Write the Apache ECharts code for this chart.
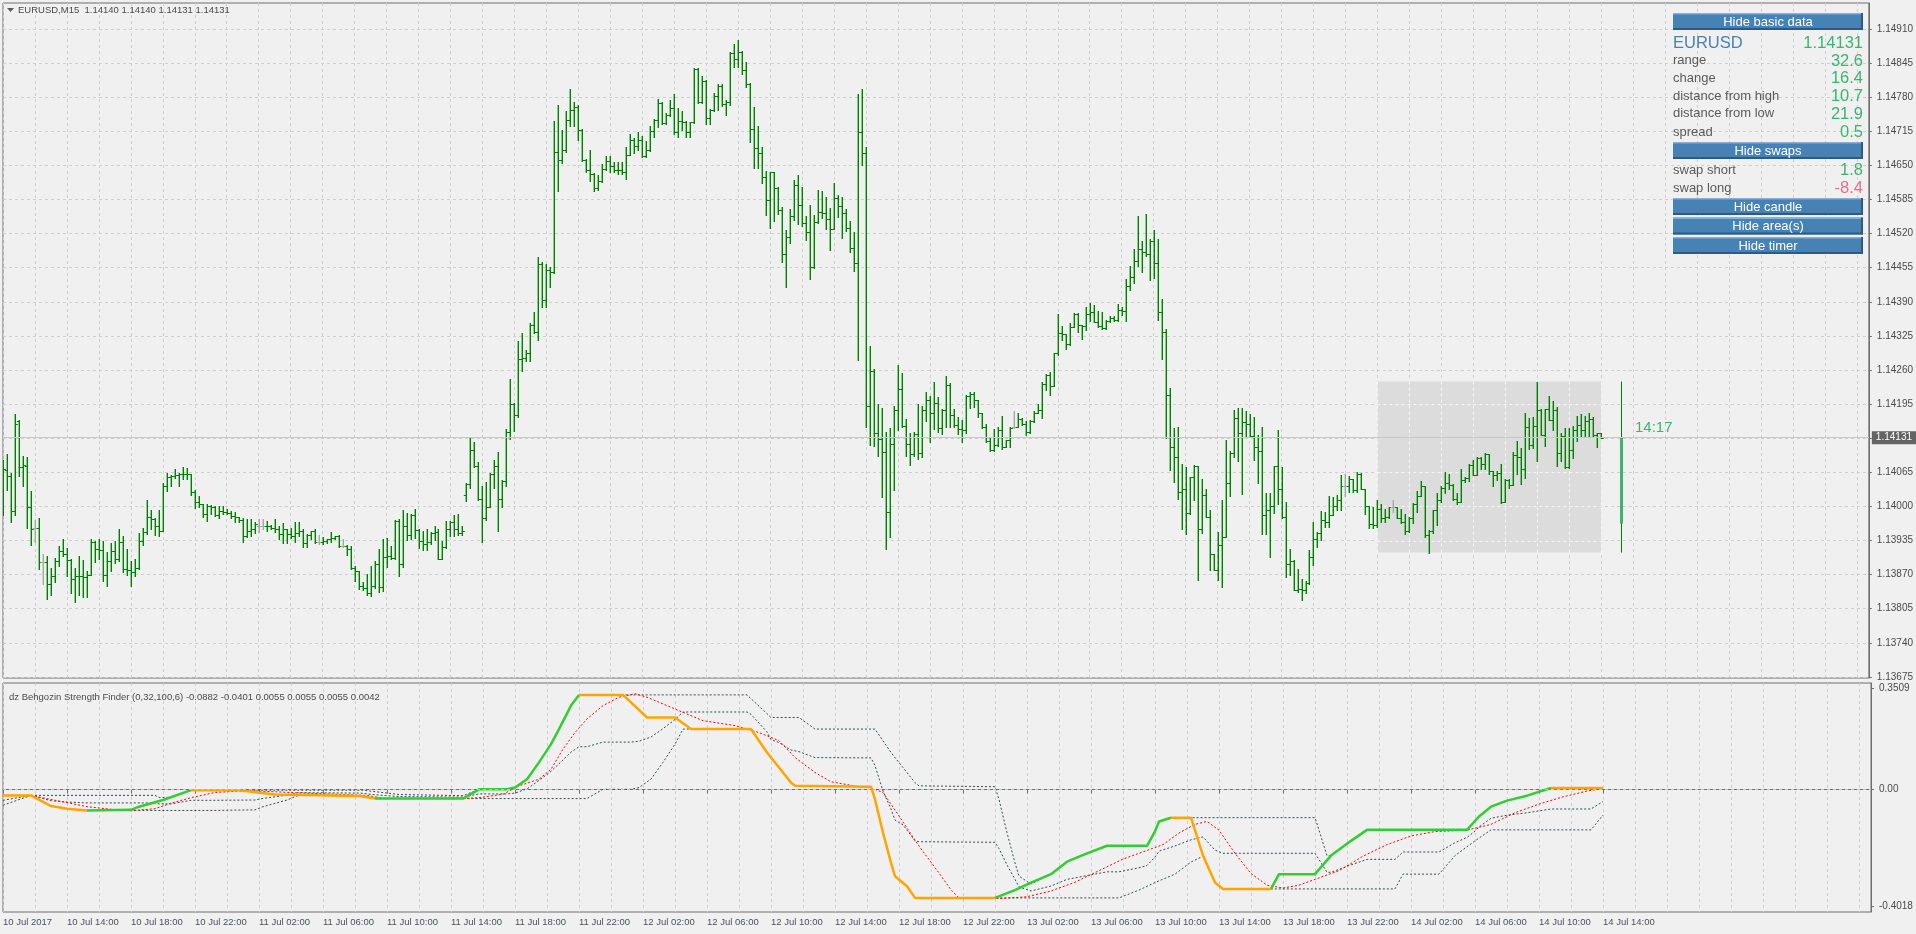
<!DOCTYPE html>
<html><head><meta charset="utf-8">
<script src="https://cdn.jsdelivr.net/npm/echarts@6/dist/echarts.min.js"></script>
<style>html,body{margin:0;padding:0;background:#F0F0F0}#c{width:1916px;height:934px}</style>
</head><body><div id="c"></div>
<script>
// ---------------- DATA ----------------
const chartTitle = 'EURUSD,M15  1.14140 1.14140 1.14131 1.14131';
const indicatorTitle = 'dz Behgozin Strength Finder (0,32,100,6) -0.0882 -0.0401 0.0055 0.0055 0.0055 0.0042';
const timeLabels = ['10 Jul 2017','10 Jul 14:00','10 Jul 18:00','10 Jul 22:00','11 Jul 02:00','11 Jul 06:00','11 Jul 10:00','11 Jul 14:00','11 Jul 18:00','11 Jul 22:00','12 Jul 02:00','12 Jul 06:00','12 Jul 10:00','12 Jul 14:00','12 Jul 18:00','12 Jul 22:00','13 Jul 02:00','13 Jul 06:00','13 Jul 10:00','13 Jul 14:00','13 Jul 18:00','13 Jul 22:00','14 Jul 02:00','14 Jul 06:00','14 Jul 10:00','14 Jul 14:00'];
const priceTicks = [1.13675,1.13740,1.13805,1.13870,1.13935,1.14000,1.14065,1.14130,1.14195,1.14260,1.14325,1.14390,1.14455,1.14520,1.14585,1.14650,1.14715,1.14780,1.14845,1.14910];
const indicatorTicks = [-0.4018, 0, 0.3509];
const lastPrice = 1.14131;
const dayOHLC = [1.13967, 1.14238, 1.13912, 1.14131];
const dayStartBar = 344;
const timerText = '14:17';
const symbolName = 'EURUSD';
const infoLabels = ['range','change','distance from high','distance from low','spread'];
const infoValues = ['32.6','16.4','10.7','21.9','0.5'];
const swapLabels = ['swap short','swap long'];
const swapValues = ['1.8','-8.4'];
const buttonLabels = ['Hide basic data','Hide swaps','Hide candle','Hide area(s)','Hide timer'];

const opens = [
1.14070,1.14070,1.14058,1.13991,1.14162,1.14076,1.14077,1.13999,1.13958,1.13958,
1.13894,1.13894,1.13852,1.13867,1.13895,1.13915,1.13909,1.13897,1.13862,1.13867,
1.13868,1.13866,1.13869,1.13933,1.13918,1.13916,1.13869,1.13896,1.13915,1.13900,
1.13932,1.13881,1.13878,1.13875,1.13882,1.13935,1.13951,1.13980,1.13976,1.13963,
1.13954,1.14039,1.14056,1.14058,1.14060,1.14061,1.14062,1.14061,1.14027,1.14008,
1.14005,1.13986,1.14000,1.13999,1.13984,1.13992,1.13990,1.13987,1.13981,1.13980,
1.13975,1.13944,1.13954,1.13956,1.13963,1.13963,1.13963,1.13962,1.13959,1.13956,
1.13948,1.13956,1.13948,1.13943,1.13949,1.13954,1.13930,1.13946,1.13953,1.13932,
1.13932,1.13934,1.13937,1.13940,1.13943,1.13924,1.13924,1.13918,1.13882,1.13876,
1.13849,1.13844,1.13834,1.13848,1.13891,1.13847,1.13904,1.13905,1.13902,1.13973,
1.13890,1.13962,1.13946,1.13984,1.13955,1.13935,1.13929,1.13932,1.13950,1.13952,
1.13900,1.13923,1.13956,1.13970,1.13956,1.13949,1.14021,1.14042,1.14107,1.14077,
1.14015,1.13978,1.13999,1.14061,1.14077,1.14014,1.14048,1.14141,1.14195,1.14175,
1.14281,1.14282,1.14292,1.14345,1.14333,1.14463,1.14393,1.14450,1.14447,1.14676,
1.14660,1.14679,1.14737,1.14756,1.14762,1.14717,1.14660,1.14641,1.14633,1.14606,
1.14620,1.14644,1.14658,1.14648,1.14642,1.14641,1.14638,1.14670,1.14699,1.14687,
1.14698,1.14667,1.14680,1.14716,1.14737,1.14769,1.14730,1.14746,1.14760,1.14714,
1.14735,1.14732,1.14713,1.14732,1.14834,1.14771,1.14811,1.14740,1.14755,1.14782,
1.14802,1.14768,1.14771,1.14865,1.14852,1.14867,1.14831,1.14806,1.14719,1.14684,
1.14673,1.14628,1.14584,1.14637,1.14606,1.14565,1.14482,1.14513,1.14554,1.14613,
1.14574,1.14541,1.14523,1.14457,1.14542,1.14561,1.14560,1.14547,1.14529,1.14587,
1.14573,1.14559,1.14531,1.14493,1.14464,1.14713,1.14673,1.14192,1.14259,1.14140,
1.14128,1.14103,1.13990,1.14119,1.14184,1.14224,1.14154,1.14119,1.14100,1.14138,
1.14101,1.14184,1.14203,1.14179,1.14198,1.14149,1.14183,1.14232,1.14175,1.14155,
1.14147,1.14145,1.14210,1.14215,1.14202,1.14178,1.14151,1.14124,1.14108,1.14117,
1.14146,1.14114,1.14126,1.14151,1.14151,1.14166,1.14157,1.14141,1.14162,1.14179,
1.14184,1.14234,1.14251,1.14230,1.14292,1.14331,1.14329,1.14310,1.14342,1.14366,
1.14345,1.14343,1.14366,1.14370,1.14351,1.14343,1.14340,1.14353,1.14359,1.14356,
1.14374,1.14372,1.14421,1.14438,1.14468,1.14491,1.14485,1.14482,1.14506,1.14464,
1.14370,1.14332,1.14213,1.14114,1.14095,1.14028,1.14033,1.13987,1.14057,1.14077,
1.13956,1.14022,1.13979,1.13909,1.13878,1.13926,1.13942,1.14045,1.14101,1.14168,
1.14140,1.14160,1.14158,1.14134,1.14113,1.14106,1.13983,1.13993,1.14001,1.14077,
1.14034,1.13979,1.13890,1.13896,1.13840,1.13843,1.13841,1.13854,1.13903,1.13937,
1.13950,1.13975,1.13971,1.13983,1.14001,1.14013,1.14038,1.14038,1.14052,1.14031,
1.14062,1.14033,1.14001,1.13966,1.13964,1.13996,1.13977,1.13979,1.13998,1.13998,
1.13977,1.13971,1.13954,1.13977,1.14005,1.14019,1.14039,1.13945,1.13954,1.13993,
1.14013,1.14036,1.14045,1.14040,1.14015,1.14009,1.14050,1.14055,1.14079,1.14060,
1.14092,1.14081,1.14100,1.14068,1.14060,1.14063,1.14009,1.14050,1.14041,1.14098,
1.14094,1.14071,1.14152,1.14117,1.14154,1.14183,1.14136,1.14185,1.14164,1.14183,
1.14101,1.14134,1.14076,1.14108,1.14146,1.14155,1.14146,1.14162,1.14166,1.14136,
1.14140];
const highs = [
1.14089,1.14100,1.14063,1.14176,1.14165,1.14096,1.14094,1.14030,1.13975,1.13977,
1.13910,1.13905,1.13882,1.13902,1.13924,1.13937,1.13921,1.13899,1.13883,1.13906,
1.13897,1.13877,1.13937,1.13934,1.13937,1.13934,1.13914,1.13930,1.13934,1.13956,
1.13943,1.13918,1.13896,1.13899,1.13949,1.13958,1.14013,1.13994,1.13978,1.13994,
1.14044,1.14063,1.14060,1.14071,1.14063,1.14075,1.14073,1.14062,1.14032,1.14019,
1.14005,1.14005,1.14003,1.14000,1.14000,1.14000,1.13995,1.13991,1.13989,1.13980,
1.13978,1.13976,1.13976,1.13970,1.13976,1.13976,1.13973,1.13965,1.13976,1.13962,
1.13968,1.13957,1.13959,1.13971,1.13971,1.13957,1.13948,1.13954,1.13957,1.13946,
1.13942,1.13938,1.13951,1.13944,1.13946,1.13937,1.13927,1.13924,1.13886,1.13876,
1.13855,1.13871,1.13887,1.13895,1.13918,1.13937,1.13939,1.13924,1.13975,1.13976,
1.13994,1.13988,1.13986,1.13996,1.13956,1.13953,1.13956,1.13952,1.13962,1.13956,
1.13935,1.13972,1.13972,1.13984,1.13985,1.13962,1.14045,1.14132,1.14123,1.14084,
1.14039,1.14046,1.14064,1.14089,1.14103,1.14051,1.14147,1.14243,1.14198,1.14315,
1.14330,1.14299,1.14350,1.14371,1.14476,1.14465,1.14462,1.14456,1.14735,1.14766,
1.14717,1.14753,1.14795,1.14771,1.14765,1.14720,1.14662,1.14680,1.14635,1.14631,
1.14653,1.14668,1.14667,1.14656,1.14656,1.14657,1.14686,1.14710,1.14702,1.14714,
1.14707,1.14696,1.14726,1.14739,1.14776,1.14771,1.14750,1.14775,1.14786,1.14760,
1.14753,1.14734,1.14733,1.14836,1.14836,1.14821,1.14813,1.14757,1.14788,1.14805,
1.14805,1.14775,1.14867,1.14881,1.14889,1.14868,1.14848,1.14807,1.14762,1.14726,
1.14685,1.14640,1.14638,1.14638,1.14608,1.14570,1.14527,1.14567,1.14623,1.14631,
1.14608,1.14554,1.14574,1.14555,1.14603,1.14601,1.14589,1.14568,1.14617,1.14593,
1.14590,1.14566,1.14544,1.14523,1.14786,1.14796,1.14686,1.14305,1.14261,1.14196,
1.14187,1.14141,1.14149,1.14192,1.14270,1.14255,1.14166,1.14140,1.14141,1.14196,
1.14192,1.14219,1.14211,1.14238,1.14208,1.14185,1.14249,1.14235,1.14185,1.14170,
1.14164,1.14213,1.14219,1.14219,1.14202,1.14179,1.14157,1.14133,1.14147,1.14151,
1.14173,1.14127,1.14152,1.14181,1.14179,1.14168,1.14162,1.14164,1.14181,1.14196,
1.14238,1.14253,1.14257,1.14292,1.14366,1.14343,1.14329,1.14350,1.14368,1.14368,
1.14345,1.14380,1.14387,1.14383,1.14372,1.14370,1.14356,1.14363,1.14362,1.14385,
1.14381,1.14433,1.14459,1.14491,1.14554,1.14506,1.14557,1.14509,1.14527,1.14510,
1.14396,1.14338,1.14226,1.14149,1.14152,1.14081,1.14075,1.14057,1.14079,1.14077,
1.14052,1.14033,1.13994,1.13909,1.13952,1.14013,1.14127,1.14106,1.14184,1.14187,
1.14187,1.14181,1.14176,1.14170,1.14136,1.14151,1.14026,1.14025,1.14077,1.14146,
1.14075,1.14009,1.13918,1.13897,1.13880,1.13862,1.13858,1.13917,1.13971,1.13952,
1.13992,1.13990,1.14019,1.14018,1.14022,1.14060,1.14062,1.14058,1.14052,1.14066,
1.14064,1.14033,1.14001,1.13998,1.14012,1.14005,1.13996,1.13999,1.14013,1.13999,
1.13996,1.13985,1.13980,1.14007,1.14030,1.14049,1.14039,1.13955,1.13994,1.14025,
1.14039,1.14066,1.14062,1.14042,1.14025,1.14071,1.14057,1.14081,1.14089,1.14094,
1.14094,1.14101,1.14100,1.14068,1.14068,1.14081,1.14052,1.14052,1.14103,1.14124,
1.14111,1.14178,1.14168,1.14170,1.14238,1.14185,1.14185,1.14211,1.14200,1.14189,
1.14140,1.14149,1.14149,1.14154,1.14173,1.14176,1.14173,1.14178,1.14170,1.14140,
1.14140];
const lows = [
1.13984,1.14032,1.13970,1.13984,1.14058,1.14038,1.13958,1.13926,1.13932,1.13880,
1.13852,1.13823,1.13831,1.13855,1.13887,1.13905,1.13868,1.13835,1.13817,1.13831,
1.13828,1.13828,1.13869,1.13894,1.13899,1.13857,1.13848,1.13876,1.13892,1.13895,
1.13875,1.13870,1.13848,1.13867,1.13881,1.13926,1.13948,1.13956,1.13946,1.13944,
1.13953,1.14029,1.14039,1.14054,1.14039,1.14052,1.14052,1.14022,1.13997,1.13999,
1.13980,1.13973,1.13986,1.13981,1.13977,1.13986,1.13985,1.13978,1.13970,1.13970,
1.13933,1.13942,1.13943,1.13949,1.13951,1.13957,1.13954,1.13956,1.13951,1.13938,
1.13930,1.13930,1.13940,1.13932,1.13944,1.13923,1.13923,1.13938,1.13930,1.13929,
1.13929,1.13930,1.13932,1.13937,1.13923,1.13922,1.13908,1.13881,1.13857,1.13843,
1.13840,1.13832,1.13829,1.13845,1.13836,1.13838,1.13885,1.13899,1.13900,1.13867,
1.13885,1.13936,1.13938,1.13940,1.13920,1.13917,1.13917,1.13928,1.13936,1.13899,
1.13899,1.13920,1.13943,1.13943,1.13945,1.13945,1.14011,1.14035,1.14075,1.14012,
1.13933,1.13975,1.13998,1.14035,1.13953,1.13998,1.14039,1.14129,1.14143,1.14170,
1.14258,1.14278,1.14278,1.14331,1.14317,1.14380,1.14380,1.14419,1.14444,1.14602,
1.14655,1.14675,1.14726,1.14726,1.14699,1.14658,1.14638,1.14621,1.14602,1.14603,
1.14618,1.14642,1.14638,1.14638,1.14634,1.14634,1.14624,1.14669,1.14674,1.14680,
1.14666,1.14666,1.14678,1.14704,1.14723,1.14728,1.14729,1.14744,1.14709,1.14704,
1.14717,1.14704,1.14704,1.14730,1.14769,1.14769,1.14728,1.14728,1.14753,1.14755,
1.14764,1.14746,1.14766,1.14838,1.14838,1.14825,1.14800,1.14694,1.14646,1.14646,
1.14617,1.14556,1.14531,1.14544,1.14558,1.14465,1.14419,1.14502,1.14546,1.14539,
1.14534,1.14508,1.14433,1.14455,1.14541,1.14550,1.14528,1.14489,1.14528,1.14552,
1.14512,1.14525,1.14485,1.14448,1.14280,1.14650,1.14152,1.14117,1.14116,1.14096,
1.14017,1.13919,1.13941,1.14031,1.14145,1.14152,1.14096,1.14079,1.14096,1.14090,
1.14095,1.14162,1.14122,1.14147,1.14141,1.14138,1.14152,1.14152,1.14152,1.14138,
1.14122,1.14140,1.14187,1.14190,1.14170,1.14149,1.14122,1.14106,1.14106,1.14115,
1.14109,1.14113,1.14113,1.14149,1.14151,1.14155,1.14136,1.14140,1.14161,1.14178,
1.14168,1.14221,1.14213,1.14229,1.14289,1.14318,1.14300,1.14308,1.14342,1.14332,
1.14319,1.14337,1.14353,1.14351,1.14342,1.14338,1.14338,1.14352,1.14354,1.14353,
1.14364,1.14353,1.14413,1.14426,1.14458,1.14447,1.14478,1.14431,1.14436,1.14356,
1.14281,1.14130,1.14069,1.14047,1.14015,1.13956,1.13947,1.13985,1.14013,1.13859,
1.13950,1.13979,1.13878,1.13878,1.13860,1.13847,1.13942,1.14019,1.14095,1.14087,
1.14024,1.14134,1.14134,1.14089,1.14044,1.13948,1.13948,1.13904,1.13988,1.14005,
1.13977,1.13866,1.13869,1.13840,1.13837,1.13822,1.13834,1.13853,1.13888,1.13922,
1.13936,1.13961,1.13961,1.13983,1.13993,1.13993,1.14019,1.14028,1.14028,1.14028,
1.14033,1.13985,1.13958,1.13958,1.13960,1.13971,1.13970,1.13977,1.13990,1.13977,
1.13968,1.13948,1.13952,1.13969,1.13990,1.14019,1.13942,1.13912,1.13950,1.13964,
1.14009,1.14025,1.14034,1.14013,1.14005,1.14009,1.14047,1.14049,1.14060,1.14060,
1.14071,1.14071,1.14062,1.14039,1.14050,1.14007,1.14009,1.14036,1.14041,1.14062,
1.14043,1.14055,1.14109,1.14111,1.14087,1.14136,1.14115,1.14164,1.14146,1.14077,
1.14087,1.14073,1.14074,1.14092,1.14124,1.14132,1.14132,1.14132,1.14133,1.14113,
1.14131];
const closes = [
1.14071,1.14058,1.13992,1.14157,1.14075,1.14078,1.13999,1.13957,1.13958,1.13894,
1.13894,1.13852,1.13867,1.13895,1.13915,1.13909,1.13897,1.13862,1.13867,1.13868,
1.13866,1.13869,1.13933,1.13918,1.13916,1.13869,1.13896,1.13915,1.13900,1.13932,
1.13881,1.13878,1.13875,1.13882,1.13935,1.13951,1.13980,1.13976,1.13963,1.13954,
1.14039,1.14056,1.14058,1.14060,1.14061,1.14062,1.14061,1.14027,1.14008,1.14005,
1.13986,1.14000,1.13999,1.13984,1.13992,1.13990,1.13987,1.13981,1.13980,1.13975,
1.13944,1.13954,1.13956,1.13967,1.13963,1.13963,1.13962,1.13959,1.13956,1.13948,
1.13956,1.13948,1.13943,1.13949,1.13954,1.13930,1.13946,1.13953,1.13932,1.13932,
1.13934,1.13937,1.13940,1.13943,1.13924,1.13924,1.13918,1.13882,1.13876,1.13849,
1.13844,1.13834,1.13848,1.13891,1.13847,1.13904,1.13905,1.13902,1.13973,1.13890,
1.13962,1.13946,1.13984,1.13955,1.13935,1.13929,1.13932,1.13950,1.13952,1.13900,
1.13923,1.13956,1.13970,1.13956,1.13949,1.13953,1.14042,1.14107,1.14077,1.14015,
1.13978,1.13999,1.14061,1.14077,1.14014,1.14048,1.14141,1.14195,1.14175,1.14281,
1.14282,1.14292,1.14345,1.14333,1.14463,1.14393,1.14450,1.14447,1.14676,1.14660,
1.14679,1.14737,1.14756,1.14762,1.14717,1.14660,1.14641,1.14633,1.14606,1.14620,
1.14644,1.14658,1.14648,1.14642,1.14641,1.14638,1.14670,1.14699,1.14687,1.14698,
1.14667,1.14680,1.14716,1.14737,1.14769,1.14730,1.14746,1.14760,1.14714,1.14735,
1.14732,1.14713,1.14732,1.14834,1.14771,1.14811,1.14740,1.14755,1.14782,1.14802,
1.14768,1.14771,1.14865,1.14852,1.14867,1.14831,1.14806,1.14719,1.14684,1.14673,
1.14628,1.14584,1.14637,1.14606,1.14565,1.14482,1.14513,1.14554,1.14613,1.14574,
1.14541,1.14523,1.14457,1.14542,1.14561,1.14560,1.14547,1.14529,1.14587,1.14573,
1.14559,1.14531,1.14493,1.14464,1.14713,1.14673,1.14192,1.14259,1.14140,1.14128,
1.14103,1.13990,1.14119,1.14184,1.14224,1.14154,1.14119,1.14100,1.14138,1.14101,
1.14184,1.14203,1.14179,1.14198,1.14149,1.14183,1.14232,1.14175,1.14155,1.14147,
1.14145,1.14210,1.14215,1.14202,1.14178,1.14151,1.14124,1.14108,1.14117,1.14146,
1.14114,1.14126,1.14149,1.14151,1.14166,1.14157,1.14141,1.14162,1.14179,1.14184,
1.14234,1.14251,1.14230,1.14292,1.14331,1.14329,1.14310,1.14342,1.14366,1.14345,
1.14343,1.14366,1.14370,1.14351,1.14343,1.14340,1.14353,1.14359,1.14356,1.14374,
1.14372,1.14421,1.14438,1.14468,1.14491,1.14485,1.14482,1.14506,1.14464,1.14370,
1.14332,1.14213,1.14114,1.14095,1.14028,1.14033,1.13987,1.14057,1.14077,1.13956,
1.14022,1.13979,1.13909,1.13878,1.13926,1.13942,1.14045,1.14101,1.14168,1.14140,
1.14160,1.14158,1.14134,1.14113,1.14106,1.13983,1.13993,1.14001,1.14077,1.14034,
1.13979,1.13890,1.13896,1.13840,1.13843,1.13841,1.13854,1.13903,1.13937,1.13950,
1.13975,1.13971,1.13983,1.14001,1.14013,1.14038,1.14038,1.14052,1.14031,1.14062,
1.14033,1.14001,1.13966,1.13964,1.13996,1.13977,1.13979,1.13998,1.13998,1.13977,
1.13971,1.13954,1.13977,1.14005,1.14019,1.14039,1.13945,1.13954,1.13993,1.14013,
1.14036,1.14045,1.14040,1.14015,1.14009,1.14050,1.14055,1.14079,1.14060,1.14092,
1.14081,1.14100,1.14068,1.14060,1.14063,1.14009,1.14050,1.14041,1.14098,1.14094,
1.14071,1.14152,1.14117,1.14154,1.14183,1.14136,1.14185,1.14164,1.14183,1.14101,
1.14134,1.14076,1.14108,1.14146,1.14155,1.14146,1.14162,1.14166,1.14136,1.14140,
1.14131];

// indicator lines: [bar, value] points
const mainLine = [[0,-0.020],[7,-0.020],[12,-0.057],[16,-0.066],[21,-0.072],[32,-0.070],[34,-0.059],[40,-0.036],[47,-0.002],[59,-0.002],[68,-0.017],[89,-0.022],[93,-0.031],[115,-0.031],[119,0.001],[126,0.001],[128,0.007],[131,0.036],[134,0.094],[137,0.157],[139,0.209],[142,0.290],[144,0.327],[155,0.327],[161,0.249],[168,0.249],[172,0.209],[187,0.209],[191,0.128],[194,0.076],[197,0.024],[198,0.013],[217,0.010],[218,-0.034],[220,-0.149],[222,-0.253],[223,-0.299],[226,-0.334],[228,-0.374],[248,-0.374],[253,-0.347],[257,-0.321],[262,-0.292],[266,-0.249],[271,-0.220],[276,-0.194],[286,-0.194],[288,-0.144],[289,-0.110],[292,-0.097],[297,-0.097],[300,-0.228],[303,-0.321],[305,-0.343],[317,-0.343],[319,-0.292],[328,-0.292],[332,-0.228],[337,-0.177],[341,-0.139],[366,-0.139],[369,-0.093],[372,-0.059],[376,-0.038],[381,-0.021],[387,0.0055],[400,0.0055]];
const mainColorRuns = [[0,21,'down'],[21,47,'up'],[47,93,'down'],[93,144,'up'],[144,248,'down'],[248,292,'up'],[292,317,'down'],[317,387,'up'],[387,400,'down']];
const signalLine = [[0,-0.020],[7,-0.020],[16,-0.045],[21,-0.059],[27,-0.068],[32,-0.073],[38,-0.066],[42,-0.047],[47,-0.028],[53,-0.010],[59,-0.005],[64,-0.005],[75,-0.012],[91,-0.020],[95,-0.030],[115,-0.031],[119,-0.028],[125,-0.016],[129,0.013],[134,0.036],[137,0.070],[140,0.140],[143,0.197],[146,0.244],[150,0.290],[154,0.319],[158,0.331],[161,0.319],[166,0.290],[171,0.261],[175,0.238],[183,0.221],[189,0.197],[194,0.169],[198,0.111],[203,0.059],[207,0.027],[214,0.010],[217,0.006],[220,-0.010],[224,-0.091],[229,-0.195],[234,-0.288],[237,-0.346],[239,-0.374],[250,-0.376],[256,-0.37],[262,-0.35],[268,-0.32],[274,-0.28],[280,-0.24],[286,-0.21],[290,-0.19],[294,-0.15],[298,-0.12],[301,-0.11],[304,-0.14],[308,-0.22],[312,-0.29],[316,-0.33],[320,-0.34],[324,-0.33],[328,-0.31],[334,-0.28],[340,-0.23],[346,-0.19],[352,-0.16],[358,-0.145],[366,-0.14],[372,-0.12],[378,-0.08],[384,-0.05],[390,-0.025],[396,-0.005],[400,0.0042]];
const upperLine = [[0,-0.020],[38,-0.020],[39,-0.027],[42,-0.027],[47,-0.002],[90,-0.002],[99,-0.017],[115,-0.021],[119,0.001],[126,0.001],[128,0.007],[131,0.036],[134,0.094],[137,0.157],[139,0.209],[142,0.290],[144,0.327],[186,0.327],[192,0.249],[199,0.249],[203,0.209],[218,0.209],[222,0.128],[225,0.076],[228,0.024],[229,0.013],[248,0.010],[249,-0.034],[251,-0.149],[253,-0.253],[254,-0.299],[257,-0.326],[262,-0.292],[266,-0.249],[271,-0.220],[276,-0.194],[286,-0.194],[288,-0.144],[289,-0.110],[292,-0.097],[328,-0.097],[329,-0.14],[331,-0.228],[332,-0.228],[337,-0.177],[341,-0.139],[366,-0.139],[369,-0.093],[372,-0.059],[376,-0.038],[381,-0.021],[387,0.0055],[400,0.0055]];
const lowerLine = [[0,-0.054],[7,-0.020],[12,-0.057],[16,-0.066],[21,-0.072],[52,-0.072],[63,-0.070],[65,-0.059],[71,-0.036],[74,-0.019],[89,-0.022],[93,-0.031],[146,-0.031],[150,0.001],[157,0.001],[159,0.007],[162,0.036],[165,0.094],[168,0.157],[170,0.209],[187,0.209],[191,0.128],[194,0.076],[197,0.024],[198,0.013],[217,0.010],[218,-0.034],[220,-0.149],[222,-0.253],[223,-0.299],[226,-0.334],[228,-0.374],[279,-0.374],[284,-0.347],[288,-0.321],[293,-0.292],[297,-0.25],[300,-0.23],[301,-0.26],[303,-0.321],[305,-0.343],[348,-0.343],[350,-0.292],[359,-0.292],[363,-0.228],[368,-0.177],[372,-0.139],[397,-0.139],[400,-0.088]];
const middleLine = [[0,-0.037],[7,-0.020],[12,-0.0385],[16,-0.043],[21,-0.046],[38,-0.046],[39,-0.0495],[42,-0.0495],[47,-0.037],[52,-0.037],[63,-0.036],[65,-0.0305],[71,-0.019],[74,-0.0105],[89,-0.012],[90,-0.013],[93,-0.018],[99,-0.024],[115,-0.026],[119,-0.015],[126,-0.015],[128,-0.012],[131,0.0025],[134,0.0315],[137,0.063],[139,0.089],[142,0.1295],[144,0.148],[146,0.148],[150,0.164],[157,0.164],[159,0.167],[162,0.1815],[165,0.2105],[168,0.242],[170,0.268],[186,0.268],[187,0.26],[191,0.199],[192,0.1725],[194,0.1625],[197,0.1365],[199,0.131],[203,0.1105],[217,0.1095],[218,0.083],[220,-0.005],[222,-0.067],[223,-0.105],[225,-0.122],[226,-0.14],[228,-0.177],[229,-0.18],[248,-0.182],[249,-0.204],[251,-0.26],[253,-0.31],[254,-0.336],[257,-0.35],[262,-0.333],[266,-0.31],[271,-0.297],[276,-0.284],[279,-0.284],[284,-0.27],[286,-0.262],[288,-0.233],[289,-0.2125],[292,-0.199],[293,-0.1945],[297,-0.1735],[300,-0.1635],[301,-0.1785],[303,-0.209],[305,-0.22],[328,-0.22],[329,-0.2415],[331,-0.2855],[332,-0.2855],[337,-0.26],[341,-0.241],[348,-0.241],[350,-0.2155],[359,-0.2155],[363,-0.1835],[366,-0.165],[368,-0.1435],[369,-0.129],[372,-0.099],[376,-0.0885],[381,-0.08],[387,-0.067],[397,-0.067],[400,-0.041]];

// ---------------- LAYOUT ----------------
const N_CATS = 468;            // bars plus empty chart shift area
const DAY_CANDLE_SLOT = 405;   // where the daily candle is drawn
const FONT = '"Liberation Sans", Arial, sans-serif';
const AXIS_COLOR = '#6E6E6E';
const GRID_COLOR = '#CFCFCF';
const LABEL_COLOR = '#4A4A4A';
const BAR_COLOR = '#008000';

const cats = Array.from({length: N_CATS}, (_, i) => String(i));
const gridLineAt = i => i % 8 === 0;
const timeLabelAt = i => i % 16 === 0 && (i / 16) < timeLabels.length;

const ohlcData = opens.map((o, i) => [i, o, highs[i], lows[i], closes[i]]);

function renderOHLC(params, api) {
  const i = api.value(0), o = api.value(1), h = api.value(2), l = api.value(3), c = api.value(4);
  const ph = api.coord([i, h]), pl = api.coord([i, l]), po = api.coord([i, o]), pc = api.coord([i, c]);
  const x = Math.round(ph[0]) + 0.3;
  const col = o === c ? '#A8A8A8' : BAR_COLOR;
  const yo = Math.round(po[1]) + 0.5, yc = Math.round(pc[1]) + 0.5;
  return {type: 'group', children: [
    {type: 'line', shape: {x1: x, y1: Math.round(ph[1]), x2: x, y2: Math.round(pl[1]) + 1}, style: {stroke: col, lineWidth: 1.4}},
    {type: 'line', shape: {x1: x - 2.5, y1: yo, x2: x, y2: yo}, style: {stroke: col, lineWidth: 1}},
    {type: 'line', shape: {x1: x, y1: yc, x2: x + 2.5, y2: yc}, style: {stroke: col, lineWidth: 1}}
  ]};
}
function renderDayCandle(params, api) {
  const i = api.value(0), o = api.value(1), h = api.value(2), l = api.value(3), c = api.value(4);
  const ph = api.coord([i, h]), pl = api.coord([i, l]), po = api.coord([i, o]), pc = api.coord([i, c]);
  const x = Math.round(ph[0]);
  return {type: 'group', children: [
    {type: 'line', shape: {x1: x + 0.5, y1: ph[1], x2: x + 0.5, y2: pl[1]}, style: {stroke: BAR_COLOR, lineWidth: 1}},
    {type: 'rect', shape: {x: x - 1, y: Math.min(po[1], pc[1]), width: 3, height: Math.abs(po[1] - pc[1])}, style: {fill: '#3CB371'}}
  ]};
}
// light dashed grid showing through the day-range box
function renderBoxGrid(params, api) {
  const a = api.value(0), b = api.value(1), lo = api.value(2), hi = api.value(3);
  const yTop = api.coord([a, hi])[1], yBot = api.coord([a, lo])[1];
  const xL = api.coord([a, lo])[0], xR = api.coord([b, lo])[0];
  const st = {stroke: '#F6F6F6', lineWidth: 1, lineDash: [3, 3]};
  const ch = [];
  for (let i = Math.ceil(a / 8) * 8; i <= b; i += 8) {
    const x = Math.round(api.coord([i, lo])[0]) + 0.5;
    ch.push({type: 'line', shape: {x1: x, y1: yTop, x2: x, y2: yBot}, style: st});
  }
  priceTicks.forEach(p => {
    if (p > lo && p < hi && Math.abs(p - lastPrice) > 0.00003) {
      const y = Math.round(api.coord([a, p])[1]) + 0.5;
      ch.push({type: 'line', shape: {x1: xL, y1: y, x2: xR, y2: y}, style: st});
    }
  });
  return {type: 'group', children: ch};
}

function runData(kind) {
  const out = [];
  mainColorRuns.forEach(([a, b, k]) => {
    if (k !== kind) return;
    mainLine.forEach(p => { if (p[0] >= a && p[0] <= b) out.push(p); });
    out.push([b, '-']);
  });
  return out;
}

const splitLineX = {show: true, interval: (i) => gridLineAt(i), lineStyle: {color: GRID_COLOR, type: [3, 3], width: 1}};

// ---------------- GRAPHICS (texts / panel) ----------------
const g = [];
g.push({type: 'polygon', shape: {points: [[7, 8], [14, 8], [10.5, 12]]}, style: {fill: '#5A5A5A'}});
g.push({type: 'text', x: 18, y: 10.5, style: {text: chartTitle, fill: '#4A4A4A', font: '9.5px ' + FONT, verticalAlign: 'middle'}});
g.push({type: 'text', x: 9, y: 697, style: {text: indicatorTitle, fill: '#4A4A4A', font: '9.5px ' + FONT, verticalAlign: 'middle'}});
g.push({type: 'text', x: 1635, y: 428, style: {text: timerText, fill: '#3CB371', font: '15px ' + FONT, verticalAlign: 'middle'}});
const PX = 1673, PW = 190, PR = PX + PW;
function button(y, label) {
  g.push({type: 'rect', shape: {x: PX, y: y, width: PW, height: 17}, style: {fill: '#4682B4'}});
  g.push({type: 'rect', shape: {x: PX, y: y, width: PW, height: 1.5}, style: {fill: '#86AED6'}});
  g.push({type: 'rect', shape: {x: PX, y: y + 15, width: PW, height: 2}, style: {fill: '#2C5A84'}});
  g.push({type: 'rect', shape: {x: PR - 2, y: y, width: 2, height: 17}, style: {fill: '#2C5A84'}});
  g.push({type: 'text', x: PX + PW / 2, y: y + 9, style: {text: label, fill: '#FFFFFF', font: '13px ' + FONT, align: 'center', verticalAlign: 'middle'}});
}
button(13, buttonLabels[0]);
g.push({type: 'text', x: PX, y: 43, style: {text: symbolName, fill: '#4682B4', font: '16.5px ' + FONT, verticalAlign: 'middle'}});
g.push({type: 'text', x: PR, y: 43, style: {text: lastPrice.toFixed(5), fill: '#3CB371', font: '16.5px ' + FONT, align: 'right', verticalAlign: 'middle'}});
const rowY = [60.5, 78, 96, 113.5, 132];
infoLabels.forEach((lab, k) => {
  g.push({type: 'text', x: PX, y: rowY[k], style: {text: lab, fill: '#5A5A5A', font: '13px ' + FONT, verticalAlign: 'middle'}});
  g.push({type: 'text', x: PR, y: rowY[k] + 0.7, style: {text: infoValues[k], fill: '#3CB371', font: '16.5px ' + FONT, align: 'right', verticalAlign: 'middle'}});
});
button(142, buttonLabels[1]);
const swapY = [170, 188];
swapLabels.forEach((lab, k) => {
  const v = swapValues[k];
  g.push({type: 'text', x: PX, y: swapY[k], style: {text: lab, fill: '#5A5A5A', font: '13px ' + FONT, verticalAlign: 'middle'}});
  g.push({type: 'text', x: PR, y: swapY[k] + 0.7, style: {text: v, fill: parseFloat(v) < 0 ? '#DB7093' : '#3CB371', font: '16.5px ' + FONT, align: 'right', verticalAlign: 'middle'}});
});
button(198, buttonLabels[2]);
button(217.5, buttonLabels[3]);
button(237, buttonLabels[4]);
g.forEach(e => { e.z = 100; });

// ---------------- OPTION ----------------
const chart = echarts.init(document.getElementById('c'), null, {renderer: 'canvas'});
const option = {
  backgroundColor: '#F0F0F0',
  animation: false,
  textStyle: {fontFamily: FONT},
  grid: [
    {left: 3, right: 45, top: 3, height: 675, show: true, borderColor: AXIS_COLOR, borderWidth: 1, backgroundColor: 'transparent'},
    {left: 3, right: 45, top: 683, height: 229, show: true, borderColor: AXIS_COLOR, borderWidth: 1, backgroundColor: 'transparent'}
  ],
  xAxis: [
    {type: 'category', gridIndex: 0, data: cats, boundaryGap: false,
     axisLine: {show: false}, axisTick: {show: false}, axisLabel: {show: false}, splitLine: splitLineX},
    {type: 'category', gridIndex: 1, data: cats, boundaryGap: false,
     axisLine: {show: true, lineStyle: {color: AXIS_COLOR}},
     axisTick: {show: true, interval: (i) => timeLabelAt(i), length: 4, lineStyle: {color: AXIS_COLOR}},
     axisLabel: {show: true, interval: (i) => timeLabelAt(i), formatter: (v, i) => timeLabels[Math.round(Number(v) / 16)] || '',
                 align: 'left', margin: 5, color: '#4A5260', fontSize: 9.5, fontFamily: FONT},
     splitLine: splitLineX}
  ],
  yAxis: [
    {type: 'value', gridIndex: 0, position: 'right', min: 1.136729, max: 1.149596, scale: true,
     axisLine: {show: true, lineStyle: {color: AXIS_COLOR}},
     axisTick: {show: true, customValues: priceTicks, length: 3, lineStyle: {color: AXIS_COLOR}},
     axisLabel: {show: true, customValues: priceTicks, formatter: v => v.toFixed(5), color: LABEL_COLOR, fontSize: 10, fontFamily: FONT, margin: 8},
     splitLine: {show: true, lineStyle: {color: GRID_COLOR, type: [3, 3], width: 1}}},
    {type: 'value', gridIndex: 1, position: 'right', min: -0.4227, max: 0.3681,
     axisLine: {show: true, lineStyle: {color: AXIS_COLOR}},
     axisTick: {show: true, customValues: indicatorTicks, length: 3, lineStyle: {color: AXIS_COLOR}},
     axisLabel: {show: true, customValues: indicatorTicks, formatter: v => (v === 0 ? '0.00' : v.toFixed(4)), color: LABEL_COLOR, fontSize: 10, fontFamily: FONT, margin: 8},
     splitLine: {show: false}}
  ],
  series: [
    {type: 'line', name: 'helper', xAxisIndex: 0, yAxisIndex: 0, data: [], z: 1, silent: true,
     markArea: {silent: true, itemStyle: {color: '#DCDCDC'}, data: [[{xAxis: dayStartBar, yAxis: dayOHLC[2]}, {xAxis: opens.length - 1, yAxis: dayOHLC[1]}]]},
     markLine: {silent: true, precision: 5, symbol: ['none', 'none'], lineStyle: {color: '#C8C8C8', type: 'solid', width: 1},
       label: {show: true, position: 'end', formatter: lastPrice.toFixed(5), color: '#FFFFFF', backgroundColor: '#646464', padding: [2, 4, 1, 4], fontSize: 10, fontFamily: FONT, distance: 3},
       data: [{yAxis: lastPrice}]}},
    {type: 'custom', name: 'boxGrid', xAxisIndex: 0, yAxisIndex: 0, data: [[dayStartBar, opens.length - 1, dayOHLC[2], dayOHLC[1]]], renderItem: renderBoxGrid, z: 1.5, silent: true, encode: {x: [0, 1], y: [2, 3]}},
    {type: 'custom', name: 'bars', xAxisIndex: 0, yAxisIndex: 0, data: ohlcData, renderItem: renderOHLC, z: 3, clip: true, encode: {x: 0, y: [1, 2, 3, 4]}},
    {type: 'custom', name: 'day', xAxisIndex: 0, yAxisIndex: 0, data: [[DAY_CANDLE_SLOT].concat(dayOHLC)], renderItem: renderDayCandle, z: 3, encode: {x: 0, y: [1, 2, 3, 4]}},
    {type: 'line', name: 'zero', xAxisIndex: 1, yAxisIndex: 1, data: [], silent: true,
     markLine: {silent: true, precision: 5, symbol: ['none', 'none'], label: {show: false}, lineStyle: {color: '#C4C4C4', type: [3, 3], width: 1}, data: [{yAxis: 0}]}},
    {type: 'line', name: 'lower', xAxisIndex: 1, yAxisIndex: 1, data: lowerLine, symbol: 'none', lineStyle: {color: '#2F4F4F', width: 1, type: [2, 2]}, z: 2},
    {type: 'line', name: 'middle', xAxisIndex: 1, yAxisIndex: 1, data: middleLine, symbol: 'none', lineStyle: {color: '#2F4F4F', width: 1, type: [2, 2]}, z: 2},
    {type: 'line', name: 'upper', xAxisIndex: 1, yAxisIndex: 1, data: upperLine, symbol: 'none', lineStyle: {color: '#2F4F4F', width: 1, type: [2, 2]}, z: 2},
    {type: 'line', name: 'signal', xAxisIndex: 1, yAxisIndex: 1, data: signalLine, symbol: 'none', lineStyle: {color: '#FF0000', width: 1, type: [2, 2]}, z: 3},
    {type: 'line', name: 'mainUp', xAxisIndex: 1, yAxisIndex: 1, data: runData('up'), symbol: 'none', connectNulls: false, lineStyle: {color: '#32CD32', width: 2.5}, z: 4},
    {type: 'line', name: 'mainDown', xAxisIndex: 1, yAxisIndex: 1, data: runData('down'), symbol: 'none', connectNulls: false, lineStyle: {color: '#FFA500', width: 2.5}, z: 4}
  ],
  graphic: {elements: g}
};
chart.setOption(option);
</script></body></html>
